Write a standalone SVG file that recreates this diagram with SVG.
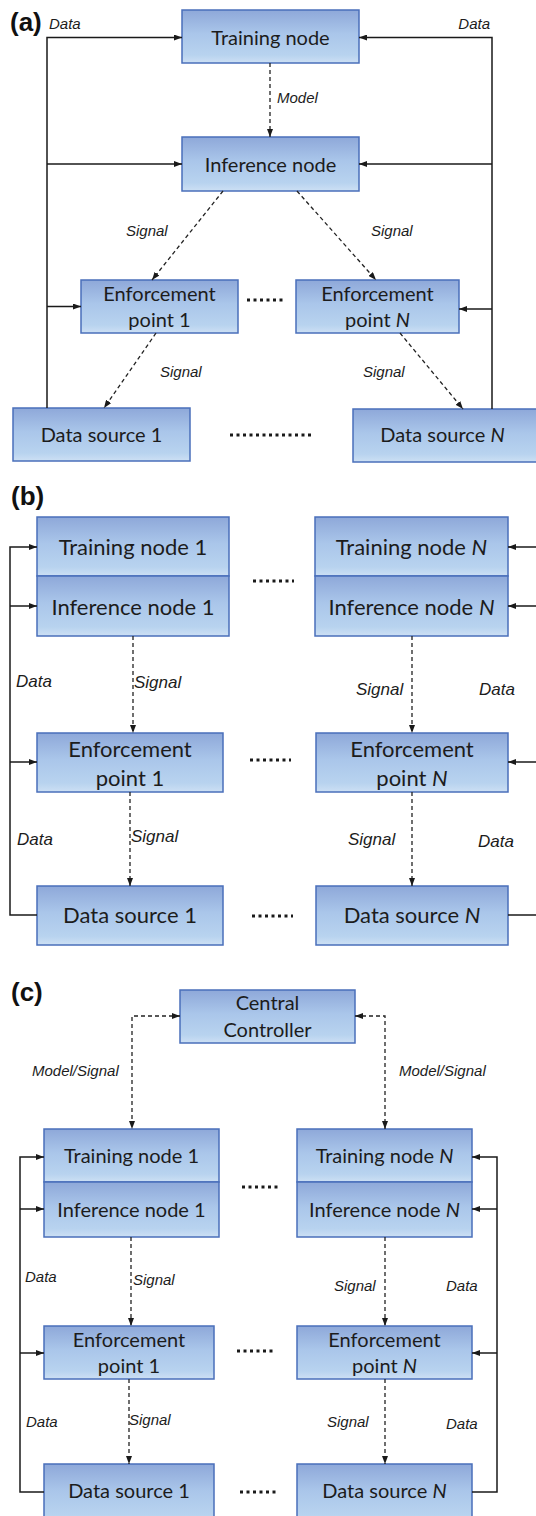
<svg xmlns="http://www.w3.org/2000/svg" width="536" height="1516" viewBox="0 0 536 1516">
  <style>
    .box { fill: url(#boxFill); stroke: #4a6fba; stroke-width: 1.5; }
    .t20 { font-family: Lato, "Open Sans", sans-serif; font-size: 20px; fill: #1c1c1c; text-anchor: middle; }
    .t22 { font-family: Lato, "Open Sans", sans-serif; font-size: 22px; fill: #1c1c1c; text-anchor: middle; }
    .lbl { font-family: "Liberation Sans", Arial, sans-serif; font-style: italic; font-size: 15px; fill: #1c1c1c; }
    .lbl17 { font-family: "Liberation Sans", Arial, sans-serif; font-style: italic; font-size: 17px; fill: #1c1c1c; }
    .panel { font-family: "Liberation Sans", Arial, sans-serif; font-weight: bold; font-size: 26px; fill: #111; }
    .solid { fill: none; stroke: #1a1a1a; stroke-width: 1.5; }
    .dash { fill: none; stroke: #222; stroke-width: 1.3; stroke-dasharray: 4 3; }
    .dots { fill: none; stroke: #1a1a1a; stroke-width: 3; stroke-dasharray: 3 3.5; }
  </style>
  <defs>
    <linearGradient id="boxFill" x1="0" y1="0" x2="0" y2="1">
      <stop offset="0" stop-color="#8ea8d9"/>
      <stop offset="0.45" stop-color="#aac6ea"/>
      <stop offset="0.85" stop-color="#b8d3ef"/>
      <stop offset="1" stop-color="#cde0f4"/>
    </linearGradient>
    <marker id="arrow" viewBox="0 0 8 6" refX="8" refY="3" markerWidth="8" markerHeight="6" markerUnits="userSpaceOnUse" orient="auto-start-reverse">
      <path d="M0,0 L8,3 L0,6 Z" fill="#1a1a1a"/>
    </marker>
  </defs>

  <!-- ===== Panel (a) ===== -->
  <text class="panel" x="10" y="31">(a)</text>

  <g id="a-training">
    <rect class="box" x="182" y="10" width="177" height="53"/>
    <text class="t20" x="270.5" y="45">Training node</text>
  </g>
  <g id="a-inference">
    <rect class="box" x="182" y="137" width="177" height="54"/>
    <text class="t20" x="270.5" y="172">Inference node</text>
  </g>
  <g id="a-ep1">
    <rect class="box" x="81" y="280" width="157" height="53"/>
    <text class="t20" x="159.5" y="301">Enforcement</text>
    <text class="t20" x="159.5" y="327">point 1</text>
  </g>
  <g id="a-epN">
    <rect class="box" x="296" y="280" width="163" height="53"/>
    <text class="t20" x="377.5" y="301">Enforcement</text>
    <text class="t20" x="377.5" y="327">point <tspan font-style="italic">N</tspan></text>
  </g>
  <g id="a-ds1">
    <rect class="box" x="13" y="408" width="177" height="53"/>
    <text class="t20" x="101.5" y="442">Data source 1</text>
  </g>
  <g id="a-dsN">
    <rect class="box" x="353" y="409" width="190" height="53"/>
    <text class="t20" x="442.5" y="442">Data source <tspan font-style="italic">N</tspan></text>
  </g>

  <g id="a-connectors">
    <path class="solid" d="M47,408 V37.5 H182" marker-end="url(#arrow)"/>
    <path class="solid" d="M47,164 H182" marker-end="url(#arrow)"/>
    <path class="solid" d="M47,306.5 H81" marker-end="url(#arrow)"/>
    <path class="solid" d="M492,409 V37.5 H359" marker-end="url(#arrow)"/>
    <path class="solid" d="M492,164 H359" marker-end="url(#arrow)"/>
    <path class="solid" d="M492,309 H459" marker-end="url(#arrow)"/>
    <path class="dash" d="M270,63 V137" marker-end="url(#arrow)"/>
    <path class="dash" d="M223,191 L152,280" marker-end="url(#arrow)"/>
    <path class="dash" d="M297,191 L376,280" marker-end="url(#arrow)"/>
    <path class="dash" d="M156,333 L104,408" marker-end="url(#arrow)"/>
    <path class="dash" d="M400,333 L463,409" marker-end="url(#arrow)"/>
    <path class="dots" d="M247,300 H285"/>
    <path class="dots" d="M230,435 H314"/>
  </g>
  <g id="a-labels">
    <text class="lbl" x="49" y="29">Data</text>
    <text class="lbl" x="490" y="29" text-anchor="end">Data</text>
    <text class="lbl" x="277" y="103">Model</text>
    <text class="lbl" x="126" y="236">Signal</text>
    <text class="lbl" x="371" y="236">Signal</text>
    <text class="lbl" x="160" y="377">Signal</text>
    <text class="lbl" x="363" y="377">Signal</text>
  </g>

  <!-- ===== Panel (b) ===== -->
  <text class="panel" x="11" y="505">(b)</text>

  <g id="b-training1">
    <rect class="box" x="37" y="517" width="192" height="59"/>
    <text class="t22" x="133" y="555">Training node 1</text>
  </g>
  <g id="b-inference1">
    <rect class="box" x="37" y="576" width="192" height="60"/>
    <text class="t22" x="133" y="615">Inference node 1</text>
  </g>
  <g id="b-trainingN">
    <rect class="box" x="315" y="517" width="193" height="59"/>
    <text class="t22" x="411.5" y="555">Training node <tspan font-style="italic">N</tspan></text>
  </g>
  <g id="b-inferenceN">
    <rect class="box" x="315" y="576" width="193" height="60"/>
    <text class="t22" x="411.5" y="615">Inference node <tspan font-style="italic">N</tspan></text>
  </g>
  <g id="b-ep1">
    <rect class="box" x="37" y="733" width="186" height="59"/>
    <text class="t22" x="130" y="757">Enforcement</text>
    <text class="t22" x="130" y="786">point 1</text>
  </g>
  <g id="b-epN">
    <rect class="box" x="316" y="733" width="192" height="59"/>
    <text class="t22" x="412" y="757">Enforcement</text>
    <text class="t22" x="412" y="786">point <tspan font-style="italic">N</tspan></text>
  </g>
  <g id="b-ds1">
    <rect class="box" x="37" y="886" width="186" height="59"/>
    <text class="t22" x="130" y="923">Data source 1</text>
  </g>
  <g id="b-dsN">
    <rect class="box" x="316" y="886" width="192" height="59"/>
    <text class="t22" x="412" y="923">Data source <tspan font-style="italic">N</tspan></text>
  </g>

  <g id="b-connectors">
    <path class="solid" d="M37,915 H10 V547 H37" marker-end="url(#arrow)"/>
    <path class="solid" d="M10,606 H37" marker-end="url(#arrow)"/>
    <path class="solid" d="M10,762 H37" marker-end="url(#arrow)"/>
    <path class="solid" d="M540,547 H508" marker-end="url(#arrow)"/>
    <path class="solid" d="M540,606 H508" marker-end="url(#arrow)"/>
    <path class="solid" d="M540,762 H508" marker-end="url(#arrow)"/>
    <path class="solid" d="M508,915 H540"/>
    <path class="dash" d="M133,636 V733" marker-end="url(#arrow)"/>
    <path class="dash" d="M130,792 V886" marker-end="url(#arrow)"/>
    <path class="dash" d="M412,636 V733" marker-end="url(#arrow)"/>
    <path class="dash" d="M412,792 V886" marker-end="url(#arrow)"/>
    <path class="dots" d="M253,581 H294"/>
    <path class="dots" d="M250,760 H291"/>
    <path class="dots" d="M252,916 H293"/>
  </g>
  <g id="b-labels">
    <text class="lbl17" x="16" y="687">Data</text>
    <text class="lbl17" x="134" y="688">Signal</text>
    <text class="lbl17" x="356" y="695">Signal</text>
    <text class="lbl17" x="479" y="695">Data</text>
    <text class="lbl17" x="17" y="845">Data</text>
    <text class="lbl17" x="131" y="842">Signal</text>
    <text class="lbl17" x="348" y="845">Signal</text>
    <text class="lbl17" x="478" y="847">Data</text>
  </g>

  <!-- ===== Panel (c) ===== -->
  <text class="panel" x="11" y="1001">(c)</text>

  <g id="c-controller">
    <rect class="box" x="180" y="990" width="175" height="53"/>
    <text class="t20" x="267.5" y="1010">Central</text>
    <text class="t20" x="267.5" y="1037">Controller</text>
  </g>
  <g id="c-training1">
    <rect class="box" x="44" y="1129" width="175" height="53"/>
    <text class="t20" x="131.5" y="1163">Training node 1</text>
  </g>
  <g id="c-inference1">
    <rect class="box" x="44" y="1182" width="175" height="55"/>
    <text class="t20" x="131.5" y="1217">Inference node 1</text>
  </g>
  <g id="c-trainingN">
    <rect class="box" x="297" y="1129" width="175" height="53"/>
    <text class="t20" x="384.5" y="1163">Training node <tspan font-style="italic">N</tspan></text>
  </g>
  <g id="c-inferenceN">
    <rect class="box" x="297" y="1182" width="175" height="55"/>
    <text class="t20" x="384.5" y="1217">Inference node <tspan font-style="italic">N</tspan></text>
  </g>
  <g id="c-ep1">
    <rect class="box" x="44" y="1326" width="170" height="53"/>
    <text class="t20" x="129" y="1347">Enforcement</text>
    <text class="t20" x="129" y="1373">point 1</text>
  </g>
  <g id="c-epN">
    <rect class="box" x="297" y="1326" width="175" height="53"/>
    <text class="t20" x="384.5" y="1347">Enforcement</text>
    <text class="t20" x="384.5" y="1373">point <tspan font-style="italic">N</tspan></text>
  </g>
  <g id="c-ds1">
    <rect class="box" x="44" y="1464" width="170" height="60"/>
    <text class="t20" x="129" y="1498">Data source 1</text>
  </g>
  <g id="c-dsN">
    <rect class="box" x="297" y="1464" width="175" height="60"/>
    <text class="t20" x="384.5" y="1498">Data source <tspan font-style="italic">N</tspan></text>
  </g>

  <g id="c-connectors">
    <path class="dash" d="M180,1016 H132 V1129" marker-start="url(#arrow)" marker-end="url(#arrow)"/>
    <path class="dash" d="M355,1016 H385 V1129" marker-start="url(#arrow)" marker-end="url(#arrow)"/>
    <path class="solid" d="M44,1492 H20 V1157 H44" marker-end="url(#arrow)"/>
    <path class="solid" d="M20,1209 H44" marker-end="url(#arrow)"/>
    <path class="solid" d="M20,1353 H44" marker-end="url(#arrow)"/>
    <path class="solid" d="M472,1492 H497 V1157 H472" marker-end="url(#arrow)"/>
    <path class="solid" d="M497,1209 H472" marker-end="url(#arrow)"/>
    <path class="solid" d="M497,1353 H472" marker-end="url(#arrow)"/>
    <path class="dash" d="M131,1237 V1326" marker-end="url(#arrow)"/>
    <path class="dash" d="M129,1379 V1464" marker-end="url(#arrow)"/>
    <path class="dash" d="M385,1237 V1326" marker-end="url(#arrow)"/>
    <path class="dash" d="M385,1379 V1464" marker-end="url(#arrow)"/>
    <path class="dots" d="M242,1187 H279"/>
    <path class="dots" d="M237,1351 H274"/>
    <path class="dots" d="M240,1492 H277"/>
  </g>
  <g id="c-labels">
    <text class="lbl" x="32" y="1076">Model/Signal</text>
    <text class="lbl" x="399" y="1076">Model/Signal</text>
    <text class="lbl" x="25" y="1282">Data</text>
    <text class="lbl" x="133" y="1285">Signal</text>
    <text class="lbl" x="334" y="1291">Signal</text>
    <text class="lbl" x="446" y="1291">Data</text>
    <text class="lbl" x="26" y="1427">Data</text>
    <text class="lbl" x="129" y="1425">Signal</text>
    <text class="lbl" x="327" y="1427">Signal</text>
    <text class="lbl" x="446" y="1429">Data</text>
  </g>
</svg>
